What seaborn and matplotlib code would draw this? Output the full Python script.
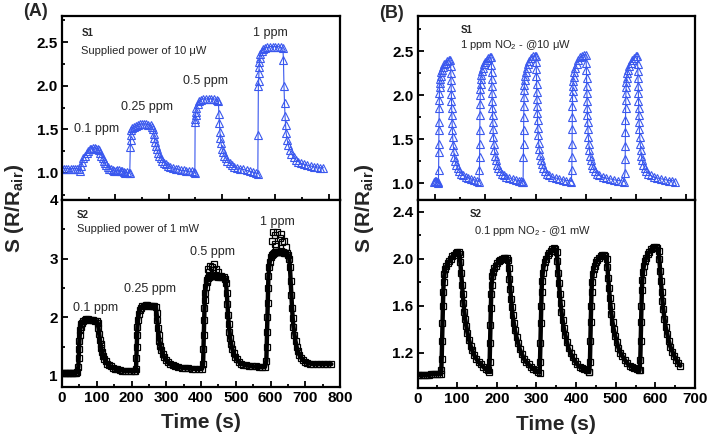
import matplotlib
matplotlib.use('Agg')
import matplotlib.pyplot as plt
import seaborn as sns
from matplotlib.ticker import MultipleLocator

# ---- dados: (tempo em s, S = R/Rair) ----
# (A) S1 - 10 uW, 0.1 / 0.25 / 0.5 / 1 ppm
a_s1 = [
    (0, 1.05), (4, 1.05), (8, 1.05), (12, 1.05), (16, 1.05), (20, 1.05), (24, 1.05), (28, 1.05), (32, 1.04), (34, 1.02),
    (36, 1.08), (38, 1.13), (40, 1.17), (43, 1.20), (46, 1.23), (49, 1.25), (52, 1.27), (55, 1.28), (58, 1.29), (61, 1.29),
    (64, 1.28), (67, 1.28), (70, 1.26), (72, 1.23), (74, 1.20), (76, 1.17), (78, 1.14), (80, 1.11), (83, 1.09), (86, 1.07),
    (89, 1.05), (92, 1.04), (95, 1.03), (98, 1.02), (101, 1.02), (104, 1.03), (107, 1.03), (110, 1.02), (113, 1.02),
    (116, 1.01), (119, 1.00), (122, 1.01), (125, 1.00), (127, 1.00),
    (128, 1.30), (128.5, 1.38), (129, 1.44), (130, 1.49), (132, 1.52), (135, 1.53), (138, 1.54), (142, 1.55), (146, 1.56),
    (150, 1.56), (154, 1.56), (158, 1.56), (162, 1.55), (166, 1.55), (169, 1.53), (171, 1.50), (172, 1.45), (173, 1.40),
    (174, 1.36), (176, 1.31), (178, 1.27), (180, 1.23), (182, 1.20), (185, 1.17), (188, 1.14), (191, 1.12), (195, 1.10),
    (199, 1.08), (203, 1.07), (208, 1.06), (213, 1.05), (218, 1.04), (223, 1.03), (228, 1.03), (233, 1.02), (238, 1.02),
    (243, 1.02), (248, 1.01),
    (249, 1.00), (249.5, 1.58), (250, 1.62), (250.5, 1.66), (251, 1.70), (252, 1.75), (254, 1.79), (256, 1.82), (260, 1.84),
    (265, 1.85), (270, 1.85), (275, 1.85), (280, 1.85), (285, 1.85), (290, 1.84), (293, 1.83), (294, 1.68), (295, 1.57),
    (296, 1.47), (297, 1.40), (298, 1.34), (300, 1.28), (302, 1.24), (304, 1.20), (307, 1.17), (310, 1.14), (314, 1.11),
    (318, 1.09), (323, 1.07), (328, 1.06), (334, 1.05), (340, 1.04), (346, 1.03), (352, 1.02), (358, 1.01), (364, 1.00),
    (367, 0.99),
    (367.5, 1.43), (368, 2.00), (368.5, 2.05), (369, 2.15), (369.5, 2.22), (370, 2.27), (371, 2.32), (372, 2.36), (374, 2.40),
    (377, 2.42), (380, 2.43), (385, 2.44), (390, 2.45), (395, 2.45), (400, 2.45), (405, 2.45), (410, 2.44), (414, 2.43),
    (415, 2.30), (416, 2.00), (417, 1.80), (418, 1.65), (419, 1.55), (420, 1.46), (422, 1.38), (424, 1.32), (427, 1.26),
    (430, 1.22), (434, 1.18), (438, 1.15), (443, 1.13), (448, 1.11), (454, 1.10), (460, 1.09), (466, 1.08), (472, 1.07),
    (478, 1.07), (484, 1.06), (490, 1.06),
]

# (A) S2 - 1 mW
a_s2 = [
    (0, 1.05), (4, 1.05), (8, 1.05), (12, 1.05), (16, 1.05), (20, 1.05), (24, 1.05), (28, 1.05), (32, 1.05), (36, 1.05),
    (40, 1.05), (44, 1.06),
    (47, 1.15), (48, 1.30), (49, 1.45), (50, 1.60), (51, 1.70), (52, 1.78), (54, 1.84), (56, 1.88), (58, 1.91), (61, 1.94),
    (65, 1.96), (70, 1.97), (75, 1.97), (80, 1.96), (85, 1.95), (90, 1.95), (95, 1.94), (100, 1.93), (103, 1.90), (105, 1.82),
    (107, 1.72), (109, 1.62), (111, 1.54), (113, 1.47), (116, 1.40), (119, 1.34), (122, 1.29), (126, 1.25), (130, 1.21),
    (135, 1.18), (140, 1.16), (146, 1.14), (152, 1.12), (159, 1.11), (166, 1.10), (174, 1.09), (182, 1.08), (190, 1.08),
    (198, 1.08), (206, 1.08), (211, 1.08),
    (213, 1.12), (214, 1.30), (215, 1.50), (216, 1.70), (217, 1.84), (219, 1.96), (221, 2.05), (224, 2.12), (227, 2.16),
    (231, 2.19), (236, 2.20), (241, 2.21), (246, 2.21), (251, 2.20), (256, 2.20), (261, 2.20), (266, 2.19), (270, 2.17),
    (272, 2.08), (274, 1.95), (276, 1.82), (278, 1.70), (280, 1.60), (283, 1.51), (286, 1.44), (290, 1.37), (294, 1.32),
    (299, 1.27), (305, 1.23), (311, 1.20), (318, 1.18), (326, 1.16), (335, 1.15), (344, 1.14), (354, 1.13), (364, 1.13),
    (374, 1.12), (384, 1.12), (394, 1.12), (403, 1.12),
    (406, 1.20), (407, 1.45), (408, 1.70), (409, 1.95), (410, 2.15), (411, 2.30), (412, 2.42), (414, 2.52), (416, 2.60),
    (418, 2.64), (421, 2.67), (424, 2.69), (427, 2.70), (430, 2.70), (433, 2.71), (436, 2.70), (439, 2.70), (442, 2.70),
    (445, 2.70), (448, 2.69), (451, 2.70), (454, 2.69), (457, 2.70), (461, 2.69), (465, 2.68), (469, 2.66), (472, 2.58),
    (474, 2.42), (476, 2.22), (478, 2.04), (480, 1.88), (482, 1.75), (484, 1.64), (487, 1.54), (490, 1.46), (494, 1.39),
    (498, 1.33), (503, 1.28), (509, 1.24), (515, 1.21), (522, 1.19), (530, 1.18), (539, 1.17), (548, 1.16), (557, 1.16),
    (566, 1.15), (575, 1.15), (584, 1.15),
    (588, 1.25), (589, 1.50), (590, 1.75), (591, 2.00), (592, 2.25), (593, 2.50), (594, 2.70), (596, 2.85), (598, 2.95),
    (600, 3.02), (603, 3.06), (606, 3.08), (609, 3.10), (612, 3.11), (615, 3.12), (618, 3.12), (621, 3.12), (624, 3.11),
    (627, 3.12), (630, 3.13), (633, 3.12), (636, 3.11), (639, 3.10), (643, 3.10), (647, 3.09), (651, 3.06), (654, 3.00),
    (656, 2.85), (658, 2.62), (660, 2.38), (662, 2.16), (664, 1.98), (666, 1.84), (669, 1.70), (672, 1.59), (675, 1.50),
    (679, 1.42), (683, 1.36), (688, 1.31), (693, 1.27), (699, 1.24), (706, 1.22), (714, 1.21), (723, 1.20), (733, 1.20),
    (743, 1.20), (753, 1.20), (763, 1.20), (775, 1.20),
]

# (A) S2 - pontos dispersos acima dos patamares de 0.5 e 1 ppm
a_s2_spikes = [
    (421, 2.83), (424, 2.78), (426, 2.88), (432, 2.86), (435, 2.80), (438, 2.90), (444, 2.82), (450, 2.78),
    (603, 3.30), (608, 3.45), (612, 3.25), (614, 3.40), (617, 3.22), (620, 3.45), (626, 3.35), (629, 3.42),
    (632, 3.28), (640, 3.30), (644, 3.20),
]

# (B) S1 - 1 ppm NO2 @10 uW, 5 ciclos
b_s1 = [
    (97, 1.02), (99, 1.03), (101, 1.03), (103, 1.02), (105, 1.01), (106.5, 1.00),
    (107, 1.15), (107.2, 1.35), (107.4, 1.45), (107.6, 1.60), (107.8, 1.70), (108, 1.85), (108.3, 1.95), (108.6, 2.03),
    (109, 2.09), (109.5, 2.14), (110, 2.18), (111, 2.22), (112, 2.26), (114, 2.29), (116, 2.32), (118, 2.35), (121, 2.37),
    (124, 2.39), (127, 2.40), (130, 2.40),
    (131, 2.33), (131.3, 2.25), (131.6, 2.17), (132, 2.09), (132.3, 2.01), (132.6, 1.93), (133, 1.85), (133.4, 1.77),
    (133.8, 1.69), (134.3, 1.61), (135, 1.52), (136, 1.44), (137, 1.37), (138.5, 1.30), (140, 1.25), (142, 1.21), (145, 1.17),
    (148, 1.14), (152, 1.11), (156, 1.09), (161, 1.07), (166, 1.06), (172, 1.05), (178, 1.04), (183, 1.03), (187.5, 1.02),
    (188.3, 1.15), (188.5, 1.30), (188.7, 1.45), (188.9, 1.60), (189.1, 1.78), (189.4, 1.90), (189.7, 2.00), (190, 2.07),
    (190.5, 2.13), (191, 2.18), (192, 2.23), (193, 2.27), (195, 2.31), (197, 2.35), (200, 2.38), (203, 2.40), (206, 2.42),
    (209, 2.43), (211.5, 2.43),
    (212, 2.34), (212.3, 2.26), (212.6, 2.18), (213, 2.10), (213.3, 2.02), (213.6, 1.94), (214, 1.86), (214.4, 1.78),
    (214.8, 1.70), (215.3, 1.62), (216, 1.53), (217, 1.45), (218, 1.38), (219.5, 1.31), (221, 1.26), (223, 1.21), (226, 1.17),
    (229, 1.14), (233, 1.11), (237, 1.09), (242, 1.07), (248, 1.06), (254, 1.05), (260, 1.04), (266, 1.03), (270, 1.03),
    (272, 1.02), (275, 1.02),
    (275.7, 1.30), (275.9, 1.45), (276.1, 1.60), (276.3, 1.75), (276.6, 1.88), (276.9, 1.98), (277.2, 2.06), (277.6, 2.12),
    (278, 2.17), (279, 2.22), (280, 2.26), (282, 2.31), (284, 2.35), (287, 2.39), (290, 2.42), (294, 2.44), (298, 2.45),
    (300.5, 2.45),
    (301, 2.38), (301.3, 2.30), (301.6, 2.22), (302, 2.13), (302.3, 2.04), (302.6, 1.96), (303, 1.88), (303.4, 1.80),
    (303.8, 1.72), (304.3, 1.63), (305, 1.55), (306, 1.46), (307, 1.39), (308.5, 1.32), (310, 1.27), (312, 1.22), (315, 1.17),
    (318, 1.14), (322, 1.11), (327, 1.09), (333, 1.07), (340, 1.06), (347, 1.05), (354, 1.04), (361, 1.03), (368, 1.03),
    (371, 1.02),
    (372, 1.15), (372.2, 1.30), (372.4, 1.45), (372.6, 1.62), (372.8, 1.75), (373.1, 1.88), (373.4, 1.98), (373.7, 2.05),
    (374.1, 2.11), (374.6, 2.16), (375.5, 2.21), (377, 2.26), (379, 2.31), (382, 2.36), (385, 2.40), (389, 2.43), (393, 2.45),
    (397, 2.46), (400, 2.46),
    (400.6, 2.37), (400.9, 2.29), (401.2, 2.20), (401.6, 2.11), (401.9, 2.02), (402.2, 1.94), (402.6, 1.86), (403, 1.78),
    (403.4, 1.70), (404, 1.62), (404.8, 1.53), (405.8, 1.45), (407, 1.38), (408.5, 1.31), (410, 1.26), (412, 1.21), (415, 1.17),
    (418, 1.14), (422, 1.11), (427, 1.09), (433, 1.07), (440, 1.06), (448, 1.05), (456, 1.04), (464, 1.03), (471, 1.03),
    (475, 1.02),
    (477.9, 1.12), (478.1, 1.28), (478.3, 1.42), (478.5, 1.58), (478.7, 1.72), (479, 1.85), (479.3, 1.95), (479.6, 2.03),
    (480, 2.09), (480.5, 2.15), (481.3, 2.20), (482.5, 2.25), (484, 2.29), (486, 2.33), (489, 2.37), (492, 2.40), (496, 2.42),
    (500, 2.44), (502.5, 2.44),
    (503, 2.36), (503.3, 2.28), (503.6, 2.20), (504, 2.11), (504.3, 2.02), (504.6, 1.94), (505, 1.86), (505.4, 1.78),
    (505.8, 1.70), (506.3, 1.62), (507, 1.53), (508, 1.45), (509, 1.38), (510.5, 1.31), (512, 1.26), (514, 1.21), (517, 1.17),
    (520, 1.14), (524, 1.11), (529, 1.09), (535, 1.07), (542, 1.06), (550, 1.05), (558, 1.04), (566, 1.03), (572, 1.03),
    (577, 1.02),
]

# (B) S2 - 0.1 ppm NO2 @1 mW, 5 ciclos
b_s2 = [
    (0, 1.01), (5, 1.01), (10, 1.01), (15, 1.01), (20, 1.01), (25, 1.01), (30, 1.01), (35, 1.02), (40, 1.02), (45, 1.02),
    (50, 1.02), (55, 1.02), (59, 1.02),
    (60, 1.05), (61, 1.15), (62, 1.30), (63, 1.45), (64, 1.60), (65, 1.72), (66, 1.80), (68, 1.87), (70, 1.91), (73, 1.94),
    (76, 1.96), (80, 1.98), (84, 2.00), (88, 2.02), (92, 2.03), (96, 2.05), (100, 2.06), (104, 2.06), (106, 2.04), (108, 1.97),
    (110, 1.88), (112, 1.78), (114, 1.70), (116, 1.62), (118, 1.55), (120, 1.49), (123, 1.43), (126, 1.37), (130, 1.31),
    (134, 1.26), (138, 1.22), (143, 1.18), (148, 1.15), (154, 1.12), (160, 1.10), (166, 1.08), (172, 1.06), (178, 1.05),
    (181, 1.04), (182, 1.12), (183, 1.28), (184, 1.44), (185, 1.58), (186, 1.70), (187, 1.78), (189, 1.85), (191, 1.89),
    (194, 1.92), (197, 1.94), (201, 1.96), (205, 1.98), (209, 1.99), (213, 2.00), (217, 2.01), (221, 2.01), (225, 2.01),
    (228, 1.99), (230, 1.92), (232, 1.83), (234, 1.74), (236, 1.66), (238, 1.59), (240, 1.52), (243, 1.45), (246, 1.39),
    (250, 1.33), (254, 1.28), (258, 1.23), (263, 1.19), (268, 1.15), (274, 1.12), (280, 1.10), (286, 1.08), (292, 1.06),
    (298, 1.05), (304, 1.04),
    (308, 1.03), (309, 1.12), (310, 1.28), (311, 1.45), (312, 1.60), (313, 1.72), (314, 1.81), (316, 1.88), (318, 1.93),
    (321, 1.97), (324, 2.00), (328, 2.03), (332, 2.05), (336, 2.07), (340, 2.08), (344, 2.09), (348, 2.08), (351, 2.06),
    (353, 1.98), (355, 1.88), (357, 1.79), (359, 1.70), (361, 1.62), (363, 1.55), (366, 1.48), (369, 1.41), (373, 1.35),
    (377, 1.29), (381, 1.24), (386, 1.20), (391, 1.16), (397, 1.13), (403, 1.10), (409, 1.08), (415, 1.07), (421, 1.06),
    (427, 1.05), (432, 1.04),
    (433, 1.04), (435, 1.12), (436, 1.30), (437, 1.46), (438, 1.60), (439, 1.72), (440, 1.80), (442, 1.87), (444, 1.91),
    (447, 1.94), (450, 1.97), (454, 1.99), (458, 2.01), (462, 2.02), (466, 2.03), (470, 2.03), (474, 2.02), (477, 2.00),
    (479, 1.93), (481, 1.84), (483, 1.75), (485, 1.67), (487, 1.60), (489, 1.53), (492, 1.46), (495, 1.40), (499, 1.34),
    (503, 1.29), (507, 1.24), (512, 1.20), (517, 1.17), (523, 1.14), (529, 1.11), (535, 1.09), (541, 1.08), (547, 1.07),
    (553, 1.06), (558, 1.05),
    (560, 1.05), (562, 1.14), (563, 1.30), (564, 1.46), (565, 1.60), (566, 1.73), (567, 1.82), (569, 1.89), (571, 1.94),
    (574, 1.98), (577, 2.01), (581, 2.04), (585, 2.06), (589, 2.08), (593, 2.09), (597, 2.10), (601, 2.10), (605, 2.09),
    (608, 2.07), (610, 2.00), (612, 1.90), (614, 1.81), (616, 1.72), (618, 1.64), (620, 1.57), (623, 1.49), (626, 1.42),
    (630, 1.36), (634, 1.30), (638, 1.25), (643, 1.21), (648, 1.17), (653, 1.14), (658, 1.11), (663, 1.09),
]

# rótulos das concentrações (A)
conc_labels = ['0.1 ppm', '0.25 ppm', '0.5 ppm', '1 ppm']

# ticks
a_top_yticks = [1.0, 1.5, 2.0, 2.5]
a_bot_yticks = [1, 2, 3, 4]
b_top_yticks = [1.0, 1.5, 2.0, 2.5]
b_bot_yticks = [1.2, 1.6, 2.0, 2.4]
a_xticks = [0, 100, 200, 300, 400, 500, 600, 700, 800]
b_xticks = [0, 100, 200, 300, 400, 500, 600, 700]

BLUE = '#3a58ee'

# ---- estilo ----
sns.set_style('ticks')
plt.rcParams['font.family'] = ['Liberation Sans', 'DejaVu Sans']
plt.rcParams['mathtext.fontset'] = 'custom'
plt.rcParams['mathtext.rm'] = 'Liberation Sans'
plt.rcParams['mathtext.bf'] = 'Liberation Sans:bold'
plt.rcParams['mathtext.it'] = 'Liberation Sans:italic'

fig = plt.figure(figsize=(7.09, 4.45), dpi=100)

W, H = 709, 445


def rect(x0, x1, y0, y1):
    # pixels -> fração da figura
    return [x0 / W, 1 - y1 / H, (x1 - x0) / W, (y1 - y0) / H]


ax_a1 = fig.add_axes(rect(62, 340, 16, 200))
ax_a2 = fig.add_axes(rect(62, 340, 200, 387))
ax_b1 = fig.add_axes(rect(417.5, 695, 16, 200))
ax_b2 = fig.add_axes(rect(417.5, 695, 200, 388))


def draw_top(ax, data):
    t, s = zip(*data)
    sns.lineplot(x=list(t), y=list(s), ax=ax, estimator=None, sort=False, color=BLUE,
                 linewidth=0.8, marker='^', markersize=6, markerfacecolor='none',
                 markeredgecolor=BLUE, markeredgewidth=0.8)


def draw_bottom(ax, data, lw=3.2):
    t, s = zip(*data)
    sns.lineplot(x=list(t), y=list(s), ax=ax, estimator=None, sort=False, color='black',
                 linewidth=lw, marker='s', markersize=4.8, markerfacecolor='none',
                 markeredgecolor='black', markeredgewidth=0.9)


draw_top(ax_a1, a_s1)
draw_bottom(ax_a2, a_s2)
draw_bottom(ax_a2, a_s2_spikes, lw=0)
draw_top(ax_b1, b_s1)
draw_bottom(ax_b2, b_s2)


def style(ax):
    for sp in ax.spines.values():
        sp.set_linewidth(1.6)
        sp.set_color('black')
    ax.tick_params(which='both', direction='in', top=False, right=False, width=1.3, colors='black')
    ax.tick_params(which='major', length=4, labelsize=11, pad=3)
    ax.tick_params(which='minor', length=2.5)
    ax.set_xlabel('')
    ax.set_ylabel('')


# (A) topo
ax_a1.set_xlim(0, 521)
ax_a1.set_ylim(0.69, 2.8)
ax_a1.set_xticks([100, 200, 300, 400, 500], [''] * 5)
ax_a1.xaxis.set_minor_locator(MultipleLocator(50))
ax_a1.set_yticks(a_top_yticks, [f'{v:.1f}' for v in a_top_yticks], fontweight='bold')
ax_a1.yaxis.set_minor_locator(MultipleLocator(0.25))

# (A) baixo
ax_a2.set_xlim(0, 800)
ax_a2.set_ylim(0.81, 4.0)
ax_a2.set_xticks(a_xticks, [str(v) for v in a_xticks], fontweight='bold')
ax_a2.xaxis.set_minor_locator(MultipleLocator(50))
ax_a2.set_yticks(a_bot_yticks, [str(v) for v in a_bot_yticks], fontweight='bold')
ax_a2.yaxis.set_minor_locator(MultipleLocator(0.5))

# (B) topo
ax_b1.set_xlim(65, 617)
ax_b1.set_ylim(0.81, 2.9)
ax_b1.set_xticks([100, 200, 300, 400, 500, 600], [''] * 6)
ax_b1.xaxis.set_minor_locator(MultipleLocator(50))
ax_b1.set_yticks(b_top_yticks, [f'{v:.1f}' for v in b_top_yticks], fontweight='bold')
ax_b1.yaxis.set_minor_locator(MultipleLocator(0.25))

# (B) baixo
ax_b2.set_xlim(0, 700)
ax_b2.set_ylim(0.9, 2.5)
ax_b2.set_xticks(b_xticks, [str(v) for v in b_xticks], fontweight='bold')
ax_b2.xaxis.set_minor_locator(MultipleLocator(50))
ax_b2.set_yticks(b_bot_yticks, [f'{v:.1f}' for v in b_bot_yticks], fontweight='bold')
ax_b2.yaxis.set_minor_locator(MultipleLocator(0.2))

for ax in (ax_a1, ax_a2, ax_b1, ax_b2):
    style(ax)

ax_a2.set_xlabel('Time (s)', fontsize=15, fontweight='bold', labelpad=6)
ax_b2.set_xlabel('Time (s)', fontsize=15, fontweight='bold', labelpad=6)

# textos
ax_a1.text(36, 2.60, 'S1', fontsize=7, fontweight='bold', va='center')
ax_a1.text(35, 2.40, 'Supplied power of 10 \u03bcW', fontsize=8, va='center')
for (x, y), lab in zip([(65, 1.50), (159, 1.755), (269, 2.05), (391, 2.61)], conc_labels):
    ax_a1.text(x, y, lab, fontsize=9, ha='center', va='center')

ax_a2.text(42, 3.74, 'S2', fontsize=7, fontweight='bold', va='center')
ax_a2.text(42, 3.50, 'Supplied power of 1 mW', fontsize=8, va='center')
for (x, y), lab in zip([(97, 2.155), (253, 2.48), (434, 3.11), (621, 3.62)], conc_labels):
    ax_a2.text(x, y, lab, fontsize=9, ha='center', va='center')

ax_b1.text(150, 2.74, 'S1', fontsize=7, fontweight='bold', va='center')
ax_b1.text(150, 2.57, '1 ppm NO$_2$ - @10 \u03bcW', fontsize=8, va='center')

ax_b2.text(132, 2.385, 'S2', fontsize=7, fontweight='bold', va='center')
ax_b2.text(142, 2.24, '0.1 ppm NO$_2$ - @1 mW', fontsize=8, va='center')

ylab = 'S (R/R$_{\\mathbf{air}}$)'
fig.text(15 / W, 1 - 208 / H, ylab, rotation=90, fontsize=15, fontweight='bold', ha='center', va='center')
fig.text(364 / W, 1 - 208 / H, ylab, rotation=90, fontsize=15, fontweight='bold', ha='center', va='center')

fig.text(35 / W, 1 - 12 / H, '(A)', fontsize=13, fontweight='bold', ha='center', va='center')
fig.text(391 / W, 1 - 13 / H, '(B)', fontsize=13, fontweight='bold', ha='center', va='center')

fig.savefig('out.png', dpi=100)
